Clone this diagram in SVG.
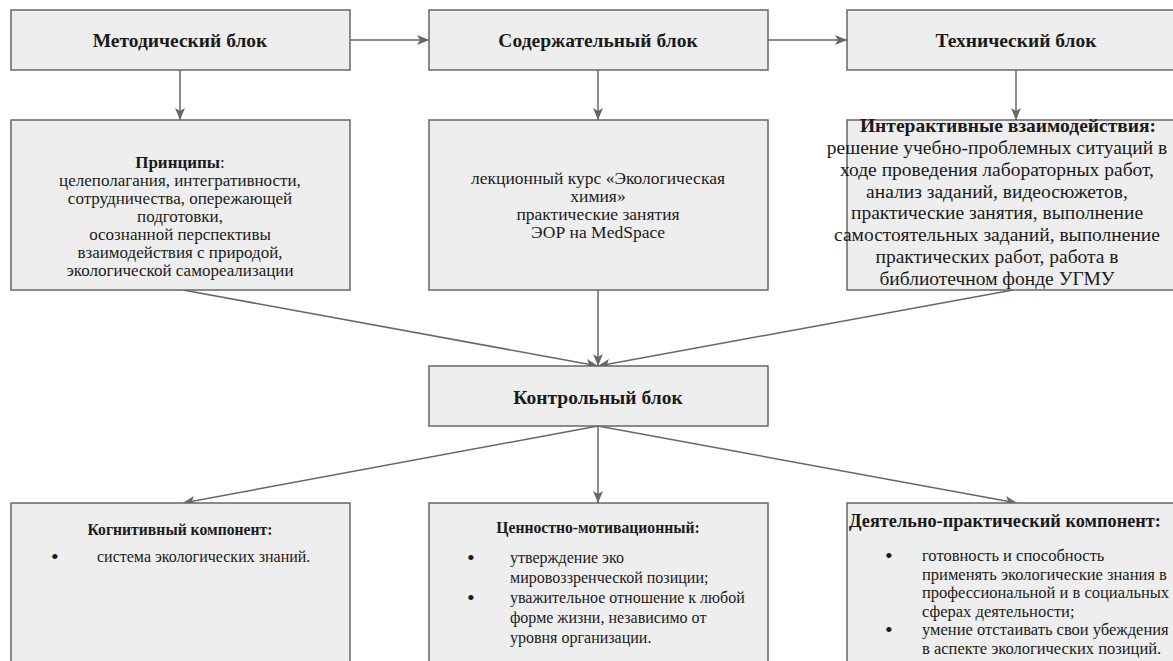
<svg xmlns="http://www.w3.org/2000/svg" width="1173" height="661" viewBox="0 0 1173 661">
<style>
.box{fill:#eeeeee;stroke:#666666;stroke-width:1.5}
.t{font-family:"Liberation Serif","Times New Roman",serif;fill:#1a1a1a}
.title{font-size:19.5px;font-weight:bold;text-anchor:middle}
.mid{font-size:17.5px;text-anchor:middle}
.mid4{font-size:17px;text-anchor:middle}
.mid6{font-size:19.5px;text-anchor:middle}
.hd{font-size:15.7px;font-weight:bold;text-anchor:middle}
.body{font-size:16px}
.rb{font-size:16.5px}
.bul{font-size:22px}
.b{font-weight:bold}
.conn line{stroke:#666666;stroke-width:1.5;fill:none}
</style>
<defs>
<marker id="arr" viewBox="0 0 12 10" refX="12" refY="5" markerWidth="12" markerHeight="10" markerUnits="userSpaceOnUse" orient="auto">
<path d="M0,0 L12,5 L0,10 L3,5 z" fill="#666666"/>
</marker>
</defs>
<rect width="1173" height="661" fill="#ffffff"/>

<g class="conn">
<line x1="350" y1="40" x2="429" y2="40" marker-end="url(#arr)"/>
<line x1="768" y1="40" x2="847" y2="40" marker-end="url(#arr)"/>
<line x1="180" y1="70" x2="180" y2="120" marker-end="url(#arr)"/>
<line x1="598" y1="70" x2="598" y2="120" marker-end="url(#arr)"/>
<line x1="1016" y1="70" x2="1016" y2="120" marker-end="url(#arr)"/>
<line x1="183" y1="290" x2="598" y2="366" marker-end="url(#arr)"/>
<line x1="598" y1="290" x2="598" y2="366" marker-end="url(#arr)"/>
<line x1="1013" y1="290" x2="598" y2="366" marker-end="url(#arr)"/>
<line x1="598" y1="426" x2="183" y2="503" marker-end="url(#arr)"/>
<line x1="598" y1="426" x2="598" y2="503" marker-end="url(#arr)"/>
<line x1="598" y1="426" x2="1017" y2="503" marker-end="url(#arr)"/>
</g>

<g id="metod">
<rect class="box" x="11" y="10" width="339" height="60"/>
<text class="t title" x="180" y="47">Методический блок</text>
</g>
<g id="soderzh">
<rect class="box" x="429" y="10" width="339" height="60"/>
<text class="t title" x="598" y="47">Содержательный блок</text>
</g>
<g id="tehn">
<rect class="box" x="847" y="10" width="339" height="60"/>
<text class="t title" x="1016" y="47">Технический блок</text>
</g>

<g id="principy">
<rect class="box" x="11" y="120" width="339" height="170"/>
<text class="t mid4" x="180" y="168"><tspan class="b">Принципы</tspan>:</text>
<text class="t mid4" x="180" y="186">целеполагания, интегративности,</text>
<text class="t mid4" x="180" y="204">сотрудничества, опережающей</text>
<text class="t mid4" x="180" y="222">подготовки,</text>
<text class="t mid4" x="180" y="240">осознанной перспективы</text>
<text class="t mid4" x="180" y="258">взаимодействия с природой,</text>
<text class="t mid4" x="180" y="276">экологической самореализации</text>
</g>

<g id="kurs">
<rect class="box" x="429" y="120" width="339" height="170"/>
<text class="t mid" x="598" y="184">лекционный курс «Экологическая</text>
<text class="t mid" x="598" y="202">химия»</text>
<text class="t mid" x="598" y="220">практические занятия</text>
<text class="t mid" x="598" y="238">ЭОР на MedSpace</text>
</g>

<g id="interakt">
<rect class="box" x="847" y="120" width="339" height="170"/>
<text class="t mid6 b" x="1008" y="132">Интерактивные взаимодействия:</text>
<text class="t mid6" x="997" y="154">решение учебно-проблемных ситуаций в</text>
<text class="t mid6" x="997" y="176">ходе проведения лабораторных работ,</text>
<text class="t mid6" x="997" y="198">анализ заданий, видеосюжетов,</text>
<text class="t mid6" x="997" y="219">практические занятия, выполнение</text>
<text class="t mid6" x="997" y="241">самостоятельных заданий, выполнение</text>
<text class="t mid6" x="997" y="263">практических работ, работа в</text>
<text class="t mid6" x="997" y="285">библиотечном фонде УГМУ</text>
</g>

<g id="kontrol">
<rect class="box" x="429" y="366" width="339" height="60"/>
<text class="t title" x="598" y="404">Контрольный блок</text>
</g>

<g id="kogn">
<rect class="box" x="11" y="503" width="339" height="170"/>
<text class="t hd" x="180" y="535">Когнитивный компонент:</text>
<text class="t bul" x="51" y="564">•</text>
<text class="t body" x="97" y="562">система экологических знаний.</text>
</g>

<g id="cennost">
<rect class="box" x="429" y="503" width="339" height="170"/>
<text class="t hd" x="598" y="533">Ценностно-мотивационный:</text>
<text class="t bul" x="467" y="565">•</text>
<text class="t body" x="510" y="563">утверждение эко</text>
<text class="t body" x="510" y="583">мировоззренческой позиции;</text>
<text class="t bul" x="467" y="605">•</text>
<text class="t body" x="510" y="603">уважительное отношение к любой</text>
<text class="t body" x="510" y="623">форме жизни, независимо от</text>
<text class="t body" x="510" y="643">уровня организации.</text>
</g>

<g id="deyat">
<rect class="box" x="847" y="503" width="339" height="170"/>
<text class="t hd" x="1005" y="527" style="font-size:18.3px">Деятельно-практический компонент:</text>
<text class="t bul" x="885" y="563">•</text>
<text class="t rb" x="922" y="561">готовность и способность</text>
<text class="t rb" x="922" y="579.5">применять экологические знания в</text>
<text class="t rb" x="922" y="598">профессиональной и в социальных</text>
<text class="t rb" x="922" y="616.5">сферах деятельности;</text>
<text class="t bul" x="885" y="637">•</text>
<text class="t rb" x="922" y="635">умение отстаивать свои убеждения</text>
<text class="t rb" x="922" y="653.5">в аспекте экологических позиций.</text>
</g>
</svg>
